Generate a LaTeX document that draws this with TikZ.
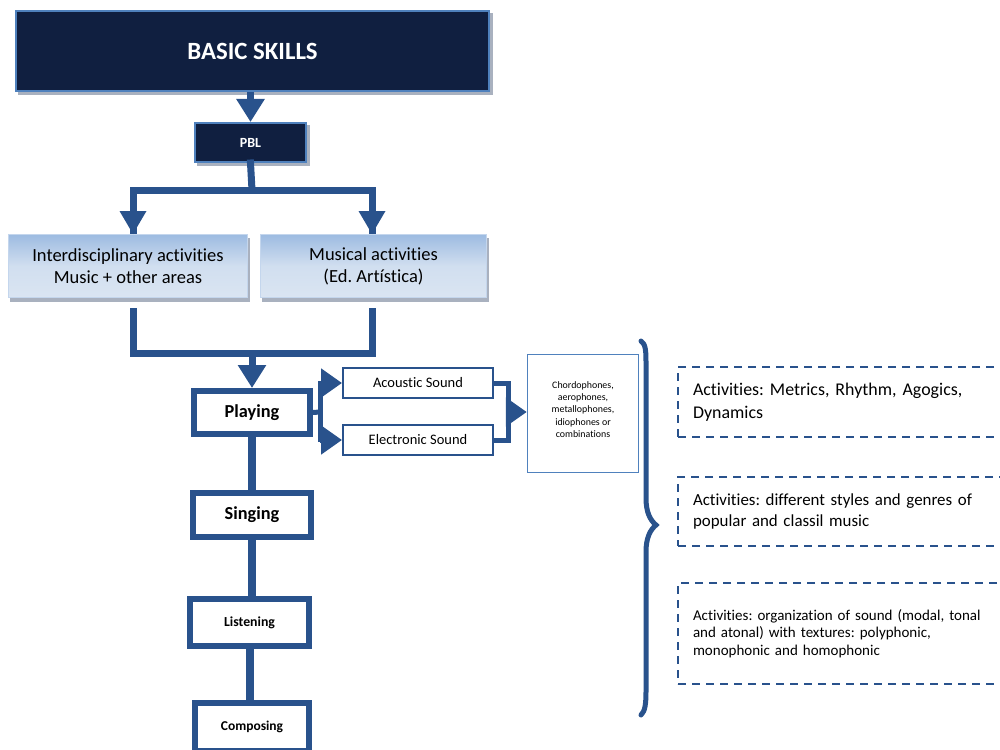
\documentclass[tikz,border=0pt]{standalone}
\usepackage{fontspec}
\setmainfont[Ligatures=NoCommon]{Carlito}
\usetikzlibrary{arrows.meta,calc}
\definecolor{navy}{HTML}{101F40}
\definecolor{lineblue}{HTML}{29528C}
\definecolor{lightedge}{HTML}{4F81BD}
\definecolor{gradtop}{HTML}{9DBBE1}
\definecolor{gradbot}{HTML}{DAE5F2}
\definecolor{shadowgray}{HTML}{A9B1BF}
\frenchspacing
\tikzset{
  darkbox/.style={draw=lightedge, line width=2pt, fill=navy, text=white, font=\bfseries, inner sep=0pt},
  gradbox/.style={draw=gradtop!60!white, line width=1pt, top color=gradtop, bottom color=gradbot, middle color=gradbot!85!gradtop, inner sep=0pt, align=center, font=\fontsize{18.5}{22}\selectfont},
  thickbox/.style={draw=lineblue, line width=6pt, fill=white, inner sep=0pt, font=\bfseries},
  soundbox/.style={draw=lineblue, line width=2pt, fill=white, inner sep=0pt, font=\fontsize{14.5}{16}\selectfont},
  dashbox/.style={draw=lineblue, line width=2pt, dash pattern=on 8pt off 6pt, inner xsep=15pt, inner ysep=0pt, align=left, text width=310pt, anchor=west},
  conn/.style={draw=lineblue, line width=7pt},
  thinconn/.style={draw=lineblue, line width=5pt},
  bigarrow/.style={-{Triangle[width=27pt,length=23pt]}},
  smallarrow/.style={-{Triangle[width=28pt,length=21pt]}},
}
\begin{document}
\begin{tikzpicture}[x=1pt,y=-1pt]
\useasboundingbox (0,0) rectangle (1000,749);
\clip (0,0) rectangle (1000,749);
\fill[white] (0,0) rectangle (1000,749);

% shadows
\fill[shadowgray] (18,13) rectangle (493,95);
\fill[shadowgray] (197,125) rectangle (310,166);
\fill[shadowgray] (10,238) rectangle (250,302);
\fill[shadowgray] (262,238) rectangle (489,302);

% top boxes
\node[darkbox, minimum width=473pt, minimum height=80pt, font=\bfseries\fontsize{24.8}{28}\selectfont] (basic) at (252.5,51) {BASIC SKILLS};
\node[darkbox, minimum width=111pt, minimum height=39pt, font=\bfseries\fontsize{14}{16}\selectfont] (pbl) at (250.5,142.5) {PBL};

\node[gradbox, minimum width=239pt, minimum height=63pt] (inter) at (128,266) {Interdisciplinary activities\\Music + other areas};
\node[gradbox, minimum width=226pt, minimum height=63pt] (musical) at (373.5,266) {Musical activities\\(Ed. Artística)};

% connectors top
\coordinate (j1) at (252,190);
\coordinate (bl) at (133,190);
\coordinate (br) at (372,190);
\draw[conn, bigarrow] (basic.south -| pbl.north) -- (pbl.north);
\draw[conn, line cap=rect] (pbl.south) -- (j1);
\draw[conn, line join=miter] (j1) -- (bl) -- (bl |- inter.north) ;
\draw[conn, line join=miter] (j1) -- (br) -- (br |- musical.north);
\path[draw=none, fill=lineblue] (bl |- inter.north) -- ++(-13.5,-23) -- ++(27,0) -- cycle;
\path[draw=none, fill=lineblue] (br |- musical.north) -- ++(-13.5,-23) -- ++(27,0) -- cycle;

% middle boxes
\node[thickbox, minimum width=116pt, minimum height=43pt, font=\bfseries\fontsize{18.3}{20}\selectfont] (playing) at (252,412.5) {Playing};
\node[thickbox, minimum width=118pt, minimum height=44pt, font=\bfseries\fontsize{18.3}{20}\selectfont] (singing) at (252,515) {Singing};
\node[thickbox, minimum width=119pt, minimum height=47pt, font=\bfseries\fontsize{13.8}{15}\selectfont] (listening) at (249.5,622.5) {Listening};
\node[thickbox, minimum width=114pt, minimum height=48pt, font=\bfseries\fontsize{13.5}{14}\selectfont] (composing) at (252,727) {Composing};

\coordinate (il) at (133,308);
\coordinate (mr) at (372,308);
\coordinate (ml) at (133,353);
\coordinate (mrr) at (372,353);
\coordinate (mj) at (252,353);
\draw[conn, line join=miter] (il) -- (ml) -- (mrr) -- (mr);
\draw[conn, bigarrow] (mj) -- (mj |- playing.north);

\draw[conn, line width=8pt] (playing.south) -- (singing.north);
\draw[conn, line width=8pt] (singing.south) -- (listening.north -| singing.south);
\draw[conn, line width=8pt] (listening.south) -- (composing.north -| listening.south);

% sound boxes
\node[soundbox, minimum width=150pt, minimum height=30pt] (acoustic) at (418,383) {Acoustic Sound};
\node[soundbox, minimum width=150pt, minimum height=30pt] (electronic) at (418,440) {Electronic Sound};
\node[draw=lightedge, line width=1.5pt, fill=white, minimum width=111pt, minimum height=118pt, inner sep=0pt] (chord) at (583,413.5) {};
\node[align=center, inner sep=0pt, font=\fontsize{9.9}{12.3}\selectfont] (chordtxt) at ($(chord.center)+(0,-4)$) {Chordophones,\\aerophones,\\metallophones,\\idiophones or\\combinations};

\coordinate (pj) at (320,412);
\draw[thinconn] (playing.east) -- (pj);
\draw[thinconn, line join=miter] ($(pj |- acoustic.west)+(0,-2)$) -- ($(pj |- electronic.west)+(0,2)$);
\draw[thinconn, smallarrow] (pj |- acoustic.west) -- (acoustic.west);
\draw[thinconn, smallarrow] (pj |- electronic.west) -- (electronic.west);

\coordinate (cj) at (508,412);
\draw[thinconn, line join=miter] (acoustic.east) -- (cj |- acoustic.east) -- (cj |- electronic.east) -- (electronic.east);
\draw[thinconn, -{Triangle[width=28pt,length=21pt]}] ($(cj)+(-2,0)$) -- (cj -| chord.west);

% brace
\draw[lineblue, line width=5pt, line cap=round]
  (641,341) .. controls (646,344) and (646,352) .. (646,366)
  -- (646,498) .. controls (646,512) and (650,520) .. (656,525)
  .. controls (650,530) and (646,538) .. (646,552)
  -- (646,690) .. controls (646,705) and (645,711) .. (641,715);

% dashed boxes
\node[dashbox, minimum height=70pt, font=\fontsize{17.9}{23.5}\selectfont] (d1) at (677,402) {Activities: Metrics, Rhythm, Agogics,\\Dynamics};
\node[dashbox, minimum height=69pt, font=\fontsize{16.9}{21}\selectfont] (d2) at (677,511.5) {Activities: different styles and genres of\\popular and classil music};
\node[dashbox, minimum height=101pt, font=\fontsize{15}{17.3}\selectfont] (d3) at (677,633.5) {Activities: organization of sound (modal, tonal\\and atonal) with textures: polyphonic,\\monophonic and homophonic};
\end{tikzpicture}
\end{document}
